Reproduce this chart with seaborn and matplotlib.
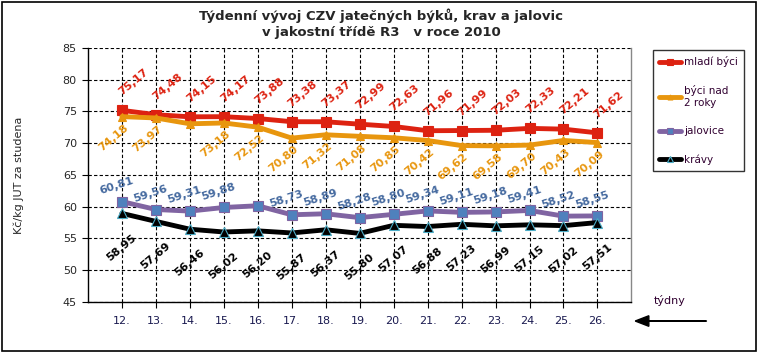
import matplotlib
matplotlib.use('Agg')
import matplotlib.pyplot as plt
import pandas as pd
import seaborn as sns
from matplotlib.patches import Rectangle, FancyArrow

# data
weeks = ['12.', '13.', '14.', '15.', '16.', '17.', '18.', '19.', '20.',
         '21.', '22.', '23.', '24.', '25.', '26.']
mladi_byci = [75.17, 74.48, 74.15, 74.17, 73.88, 73.38, 73.37, 72.99, 72.63,
              71.96, 71.99, 72.03, 72.33, 72.21, 71.62]
byci_nad = [74.18, 73.97, 73.05, 73.18, 72.52, 70.80, 71.32, 71.08, 70.85,
            70.42, 69.62, 69.58, 69.70, 70.43, 70.09]
jalovice = [60.81, 59.56, 59.31, 59.88, 60.15, 58.73, 58.89, 58.28, 58.80,
            59.34, 59.11, 59.18, 59.41, 58.52, 58.55]
kravy = [58.95, 57.69, 56.46, 56.02, 56.20, 55.87, 56.37, 55.80, 57.07,
         56.88, 57.23, 56.99, 57.15, 57.02, 57.51]
# points whose value label is hidden in the original
hidden_byci_nad = [2]
hidden_jalovice = [4]

sns.set_style('white')
plt.rcParams['font.family'] = ['DejaVu Sans']

fig = plt.figure(figsize=(7.58, 3.52), dpi=100)
ax = fig.add_axes([0.116, 0.142, 0.717, 0.722])

x = list(range(len(weeks)))


def fmt(v):
    return f'{v:.2f}'.replace('.', ',')


series = [
    ('mladí býci', mladi_byci, '#DD2211', 's', 7.5, '#DD2211', '#DD2211'),
    ('býci nad\n2 roky', byci_nad, '#E8960E', '^', 6, '#E8960E', '#E8960E'),
    ('jalovice', jalovice, '#8064A2', 's', 7, '#4F81BD', '#8064A2'),
    ('krávy', kravy, '#000000', '^', 6.5, '#000000', '#4BACC6'),
]

for name, vals, col, mk, ms, mfc, mec in series:
    df = pd.DataFrame({'x': x, 'y': vals})
    sns.lineplot(data=df, x='x', y='y', ax=ax, color=col, linewidth=3.5,
                 marker=mk, markersize=ms, markerfacecolor=mfc,
                 markeredgecolor=mec, markeredgewidth=0.8, label=name,
                 zorder=3)

# value labels
for i, v in enumerate(mladi_byci):
    ax.annotate(fmt(v), (i, v), xytext=(1, 13), textcoords='offset pixels',
                ha='left', va='bottom', rotation=40, color='#DD2211',
                fontsize=8, fontweight='bold', rotation_mode='anchor')
for i, v in enumerate(byci_nad):
    if i in hidden_byci_nad:
        continue
    ax.annotate(fmt(v), (i, v), xytext=(2, -6), textcoords='offset pixels',
                ha='right', va='top', rotation=40, color='#E8960E',
                fontsize=8, fontweight='bold', rotation_mode='anchor')
for i, v in enumerate(jalovice):
    if i in hidden_jalovice:
        continue
    ax.annotate(fmt(v), (i, v), xytext=(-5, 16), textcoords='offset pixels',
                ha='center', va='center', rotation=18, color='#44699F',
                fontsize=8, fontweight='bold')
for i, v in enumerate(kravy):
    ax.annotate(fmt(v), (i, v), xytext=(0, -34), textcoords='offset pixels',
                ha='center', va='center', rotation=40, color='#000000',
                fontsize=8, fontweight='bold')

ax.set_xlim(-1, len(weeks))
ax.set_ylim(45, 85)
ax.set_yticks(range(45, 86, 5))
ax.set_xticks(x)
ax.set_xticklabels(weeks, color='#1a1a50')
ax.tick_params(axis='x', direction='out', length=4, width=0.8, pad=6,
               labelsize=8, color='black', bottom=True)
ax.tick_params(axis='y', direction='out', length=4, width=0.8, pad=4,
               labelsize=8, color='black', left=True)
ax.grid(True, color='black', linestyle=(0, (3, 2)), linewidth=0.8)
ax.set_axisbelow(True)
for s in ['left', 'bottom']:
    ax.spines[s].set_color('black')
    ax.spines[s].set_linewidth(1)
ax.spines['top'].set_visible(False)
ax.spines['right'].set_color('#888888')
ax.spines['right'].set_linewidth(1)
ax.set_xlabel('')
ax.set_ylabel('Kč/kg JUT za studena', fontsize=8, labelpad=28)

leg = ax.legend(loc='upper left', bbox_to_anchor=(0.8615, 0.858),
                bbox_transform=fig.transFigure, frameon=True, fancybox=False,
                edgecolor='black', fontsize=7.5, handlelength=2.1,
                handletextpad=0.3, labelspacing=1.75, borderpad=0.6,
                borderaxespad=0, markerscale=0.6)
leg.get_frame().set_linewidth(1)
for t in leg.get_texts():
    t.set_color('#300030')

fig.text(0.503, 0.977, 'Týdenní vývoj CZV jatečných býků, krav a jalovic\n'
         'v jakostní třídě R3   v roce 2010', ha='center', va='top',
         fontsize=9.5, fontweight='bold', linespacing=1.3)

fig.text(0.862, 0.145, 'týdny', fontsize=8, color='#300030', ha='left',
         va='center')
fig.patches.append(FancyArrow(
    0.932, 0.088, -0.094, 0, width=0.0005, head_width=0.03,
    head_length=0.018, length_includes_head=True, color='black',
    transform=fig.transFigure, figure=fig))

fig.patches.append(Rectangle((0.002, 0.004), 0.995, 0.99, fill=False,
                             edgecolor='black', linewidth=1.2,
                             transform=fig.transFigure, figure=fig))

fig.savefig('out.png', dpi=100)
